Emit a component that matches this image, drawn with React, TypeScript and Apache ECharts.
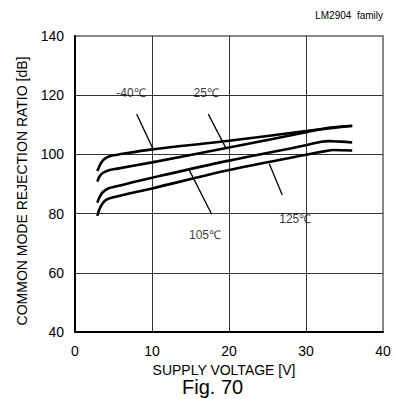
import React, { useEffect, useRef } from "react";
import * as echarts from "echarts";

const xTicks = [0, 10, 20, 30, 40];
const yTicks = [40, 60, 80, 100, 120, 140];

const curveM40: [number, number][] = [
  [2.9, 94.4], [3.1, 95.6], [3.4, 97.2], [3.8, 98.4], [4.5, 99.4], [5.5, 99.9],
  [10, 101.7], [20, 104.6], [30, 107.9], [36, 109.7],
];
const curve25: [number, number][] = [
  [2.9, 90.8], [3.2, 92.6], [3.6, 93.7], [4.3, 94.6], [5.5, 95.2],
  [10, 97.3], [20, 102.3], [30, 107.5], [33, 109.0], [36, 109.6],
];
const curve105: [number, number][] = [
  [2.9, 83.7], [3.2, 85.6], [3.6, 87.2], [4.3, 88.5], [5.5, 89.3],
  [10, 92.1], [20, 97.9], [30, 103.1], [32, 104.3], [33, 104.5], [34.5, 104.3], [36, 104.0],
];
const curve125: [number, number][] = [
  [2.9, 79.2], [3.2, 81.6], [3.6, 83.5], [4.1, 84.7], [5, 85.5],
  [10, 88.5], [20, 94.7], [30, 99.9], [32.5, 101.1], [33.5, 101.5], [36, 101.3],
];

const tempLabels = ["-40℃", "25℃", "105℃", "125℃"];
const labelPos: [number, number][] = [[7.27, 120.9], [17.05, 120.9], [16.88, 72.8], [28.6, 78.2]];
const leaders: [number, number][][] = [
  [[8.01, 113.6], [10.09, 102.1]],
  [[17.31, 113.6], [19.57, 102.3]],
  [[14.84, 94.7], [17.75, 79.8]],
  [[25.23, 96.8], [26.92, 86.3]],
];

const FONT = "'Liberation Sans', Arial, sans-serif";

export default function App() {
  const ref = useRef<HTMLDivElement>(null);
  useEffect(() => {
    if (!ref.current) return;
    const chart = echarts.init(ref.current, null, { renderer: "svg" });
    const curves = [curveM40, curve25, curve105, curve125];
    const series: any[] = [];
    curves.forEach((c) => {
      series.push({
        type: "line",
        data: c,
        symbol: "none",
        smooth: 0.35,
        lineStyle: { color: "#000", width: 2.6 },
        z: 3,
      });
    });
    leaders.forEach((l) => {
      series.push({
        type: "line",
        data: l,
        symbol: "none",
        lineStyle: { color: "#000", width: 1.3 },
        z: 3,
      });
    });
    series.push({
      type: "scatter",
      symbolSize: 0,
      data: labelPos.map((p, i) => ({ value: p, name: tempLabels[i] })),
      label: {
        show: true,
        position: "inside",
        formatter: (p: any) => p.name,
        color: "#000",
        fontSize: 12,
        fontFamily: FONT,
      },
      z: 4,
    });
    chart.setOption({
      animation: false,
      backgroundColor: "#fff",
      grid: {
        left: 75, top: 36, width: 308, height: 296,
        show: true, borderColor: "#888", borderWidth: 2, backgroundColor: "transparent",
      },
      xAxis: {
        type: "value",
        min: xTicks[0],
        max: xTicks[xTicks.length - 1],
        interval: 10,
        name: "SUPPLY VOLTAGE [V]",
        nameLocation: "middle",
        nameGap: 27,
        nameTextStyle: { color: "#000", fontSize: 14, fontFamily: FONT, padding: [0, 10, 0, 0] },
        axisLine: { show: true, lineStyle: { color: "#000", width: 2 } },
        axisTick: { show: false },
        axisLabel: { color: "#000", fontSize: 14, fontFamily: FONT, margin: 12 },
        splitLine: { show: true, showMinLine: false, showMaxLine: false, lineStyle: { color: "#333", width: 1 } },
      },
      yAxis: {
        type: "value",
        min: yTicks[0],
        max: yTicks[yTicks.length - 1],
        interval: 20,
        name: "COMMON MODE REJECTION RATIO [dB]",
        nameLocation: "middle",
        nameGap: 46,
        nameRotate: 90,
        nameTextStyle: { color: "#000", fontSize: 14, fontFamily: FONT, padding: [0, 14, 0, 0] },
        axisLine: { show: true, lineStyle: { color: "#000", width: 2 } },
        axisTick: { show: false },
        axisLabel: { color: "#000", fontSize: 14, fontFamily: FONT, margin: 11 },
        splitLine: { show: true, showMinLine: false, showMaxLine: false, lineStyle: { color: "#333", width: 1 } },
      },
      graphic: [
        {
          type: "text",
          right: 12,
          top: 10,
          style: { text: "LM2904  family", fontSize: 10, fontFamily: FONT, fill: "#000" },
        },
        {
          type: "text",
          left: 182,
          top: 377,
          style: { text: "Fig. 70", fontSize: 20, fontFamily: FONT, fill: "#000" },
        },
      ],
      series,
    });
    return () => chart.dispose();
  }, []);
  return (
    <div
      ref={ref}
      style={{ position: "fixed", left: 0, top: 0, width: 395, height: 399, background: "#fff" }}
    />
  );
}
